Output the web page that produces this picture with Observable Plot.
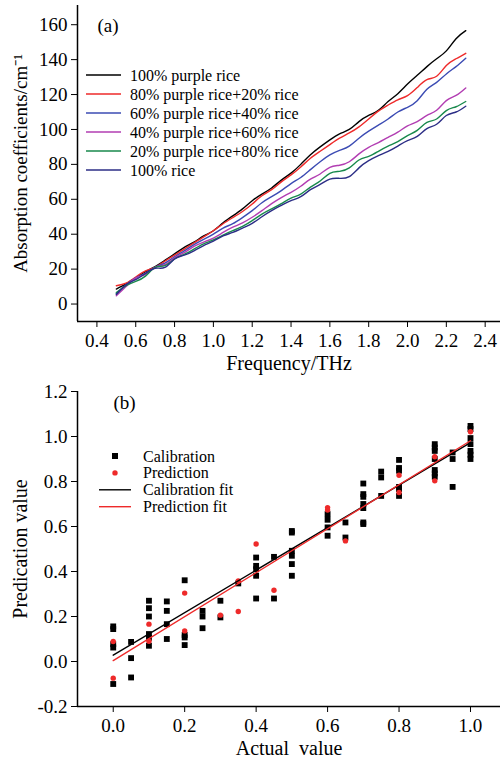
<!DOCTYPE html>
<html>
<head>
<meta charset="utf-8">
<script src="https://cdn.jsdelivr.net/npm/d3@7"></script>
<script src="https://cdn.jsdelivr.net/npm/@observablehq/plot@0.6"></script>
<style>
  body { margin: 0; background: #fff; }
  #wrap { position: relative; width: 500px; height: 760px; font-family: "Liberation Serif", "Times New Roman", serif; }
  .legend { position: absolute; left: 0; top: 0; pointer-events: none; }
</style>
</head>
<body>
<div id="wrap"></div>
<script>
// ---------- Panel (a) data ----------
const freq = [0.5,0.55,0.6,0.65,0.7,0.75,0.8,0.85,0.9,0.95,1.0,1.05,1.1,1.15,1.2,1.25,1.3,1.35,1.4,1.45,1.5,1.55,1.6,1.65,1.7,1.75,1.8,1.85,1.9,1.95,2.0,2.05,2.1,2.15,2.2,2.25,2.3];
const purple100 = [8.6,11.5,15,18.5,21.5,25,28.7,32.5,35.5,39,42,46.5,50.5,54.5,59.2,63,66.5,71,75,80,85.5,90,94,97.5,100,104.5,108,111,116,120.5,126,131,136,140.5,145,152,156.6];
const purple80 = [10.5,12,15.5,19,21,24.5,28,31.5,35,38.5,42,46,49.5,53,57.3,62,65.5,70,74,78.5,83.5,87.5,91.3,95,98,101.5,106,110.5,114,117,119.4,124,128.5,130.5,136.6,140.5,143.6];
const purple60 = [6,11,15,17.5,21,23.5,27,30.5,34,37,40,43.5,46,49.5,53.5,58,61.5,65,69,72.5,77,81.5,85.4,88,90.5,95,99,102.5,106,110,112.7,116.5,123,127,131.8,136,140.8];
const purple40 = [4.8,10,15,17,21,22.5,26.5,29.5,33,35.5,37.8,41,44,46.5,49.7,53.5,57.5,61,64,67.5,71.5,74.5,78.3,79.5,81.5,86,89.8,92.5,95.5,98.5,102,104.5,108,111,116.5,119.5,123.8];
const purple20 = [6.5,10.5,13,16,21,22,25.8,28.5,31.5,34.5,36.7,39.5,42,44.5,47.8,51.5,54.5,57.5,60.7,63,67,70.5,74.9,76,78,82.5,84.6,87.5,90.5,93,96.5,99.5,104,106,110.8,113,116];
const rice100 = [5.5,11,14,17.5,20.5,21,25.8,28,30.5,33.5,36,39,41,43.5,46.2,50,53.5,56.5,59.2,61.5,65.5,68.5,71.6,72,73,78,82.1,85,87.5,90.5,93.6,96,100.5,103,108,110,113.3];
const seriesNames = ["100% purple rice","80% purple rice+20% rice","60% purple rice+40% rice","40% purple rice+60% rice","20% purple rice+80% rice","100% rice"];
const seriesValues = [purple100, purple80, purple60, purple40, purple20, rice100];
const seriesColors = ["#000000","#ee2a2a","#3b4bb3","#b23db2","#18894c","#2c2e86"];
const xTicksA = [0.4,0.6,0.8,1.0,1.2,1.4,1.6,1.8,2.0,2.2,2.4];
const yTicksA = [0,20,40,60,80,100,120,140,160];

// ---------- Panel (b) data ----------
const calX = [0,0,0,0,0, 0.05,0.05,0.05, 0.1,0.1,0.1,0.1,0.1,0.1, 0.15,0.15,0.15,0.15, 0.2,0.2,0.2,0.2, 0.25,0.25,0.25, 0.3,0.3, 0.35, 0.4,0.4,0.4,0.4,0.4, 0.45,0.45, 0.5,0.5,0.5,0.5,0.5,0.5, 0.6,0.6,0.6,0.6, 0.65,0.65, 0.7,0.7,0.7,0.7,0.7,0.7,0.7, 0.75,0.75,0.75, 0.8,0.8,0.8,0.8,0.8,0.8, 0.9,0.9,0.9,0.9,0.9,0.9,0.9, 0.95,0.95,0.95, 1,1,1,1,1,1,1];
const calY = [0.156,0.144,0.077,0.062,-0.1, 0.087,0.015,-0.071, 0.27,0.237,0.2,0.122,0.105,0.07, 0.267,0.225,0.166,0.1, 0.361,0.118,0.107,0.073, 0.225,0.2,0.148, 0.27,0.196, 0.347, 0.462,0.425,0.41,0.381,0.28, 0.465,0.28, 0.58,0.573,0.492,0.47,0.433,0.381, 0.655,0.63,0.596,0.559, 0.618,0.551, 0.791,0.744,0.732,0.7,0.682,0.618,0.611, 0.844,0.818,0.736, 0.896,0.86,0.848,0.776,0.766,0.736, 0.966,0.951,0.936,0.9,0.851,0.836,0.821, 0.929,0.9,0.776, 1.047,1.033,0.993,0.966,0.936,0.919,0.9];
const predX = [0,0, 0.1,0.1, 0.2,0.2, 0.3, 0.35,0.35, 0.4, 0.45, 0.6,0.6, 0.65, 0.8,0.8, 0.9,0.9, 1];
const predY = [0.089,-0.074, 0.166,0.09, 0.304,0.136, 0.206, 0.358,0.222, 0.522, 0.317, 0.684,0.673, 0.536, 0.828,0.751, 0.91,0.803, 1.021];
const fitX = [0, 1];
const calFitY = [0.028, 0.973];
const predFitY = [0.004, 0.981];
const xTicksB = [0,0.2,0.4,0.6,0.8,1.0];
const yTicksB = [-0.2,0,0.2,0.4,0.6,0.8,1.0,1.2];

const FONT = "\"Liberation Serif\", \"Times New Roman\", serif";
const wrap = document.getElementById("wrap");

// ---------- Panel (a) ----------
const rowsA = seriesNames.flatMap((name, i) => freq.map((f, j) => ({f, v: seriesValues[i][j], name})));
const plotA = Plot.plot({
  width: 500, height: 380,
  marginLeft: 77, marginRight: 0, marginTop: 5, marginBottom: 59,
  style: {fontFamily: FONT, fontSize: "19px", background: "white", color: "black", overflow: "visible"},
  x: {domain: [0.3, 2.479]},
  y: {domain: [-10, 171]},
  color: {domain: seriesNames, range: seriesColors},
  marks: [
    Plot.line(rowsA, {x: "f", y: "v", z: "name", stroke: "name", curve: "natural", strokeWidth: 1.4}),
    Plot.ruleX([0.3], {strokeWidth: 1.5}),
    Plot.ruleY([-10], {strokeWidth: 1.5}),
    Plot.axisX({ticks: xTicksA, tickSize: 6, tickPadding: 6, tickFormat: d => d.toFixed(1), fontSize: 19, label: null}),
    Plot.axisY({ticks: yTicksA, tickSize: 6, tickPadding: 4, tickFormat: d => String(d), fontSize: 19, label: null}),
    Plot.text(["Frequency/THz"], {text: d => d, frameAnchor: "bottom", dy: 42, fontSize: 20, lineAnchor: "middle", textAnchor: "middle"}),
    Plot.text(["Absorption coefficients/cm\u207B\u00B9"], {text: d => d, frameAnchor: "left", dx: -57, rotate: -90, fontSize: 19, lineAnchor: "middle", textAnchor: "middle"}),
    Plot.text(["(a)"], {text: d => d, frameAnchor: "top-left", dx: 20, dy: 20, fontSize: 19, textAnchor: "start", lineAnchor: "middle"})
  ]
});
wrap.appendChild(plotA);

// ---------- Panel (b) ----------
const calRows = calX.map((x, i) => ({x, y: calY[i]}));
const predRows = predX.map((x, i) => ({x, y: predY[i]}));
const calFit = fitX.map((x, i) => ({x, y: calFitY[i]}));
const predFit = fitX.map((x, i) => ({x, y: predFitY[i]}));
const plotB = Plot.plot({
  width: 500, height: 380,
  marginLeft: 77, marginRight: 0, marginTop: 11, marginBottom: 54,
  style: {fontFamily: FONT, fontSize: "19px", background: "white", color: "black", overflow: "visible"},
  x: {domain: [-0.1, 1.084]},
  y: {domain: [-0.2, 1.2]},
  marks: [
    Plot.dot(calRows, {x: "x", y: "y", symbol: "square", r: 3.3, fill: "black", stroke: "none"}),
    Plot.dot(predRows, {x: "x", y: "y", symbol: "circle", r: 2.7, fill: "#ee2a2a", stroke: "none"}),
    Plot.line(calFit, {x: "x", y: "y", stroke: "black", strokeWidth: 1.4}),
    Plot.line(predFit, {x: "x", y: "y", stroke: "#ee2a2a", strokeWidth: 1.4}),
    Plot.ruleX([-0.1], {strokeWidth: 1.5}),
    Plot.ruleY([-0.2], {strokeWidth: 1.5}),
    Plot.axisX({ticks: xTicksB, tickSize: 6, tickPadding: 6, tickFormat: d => d.toFixed(1), fontSize: 19, label: null}),
    Plot.axisY({ticks: yTicksB, tickSize: 6, tickPadding: 4, tickFormat: d => d.toFixed(1), fontSize: 19, label: null}),
    Plot.text(["Actual  value"], {text: d => d, frameAnchor: "bottom", dy: 42, fontSize: 20, lineAnchor: "middle", textAnchor: "middle"}),
    Plot.text(["Predication value"], {text: d => d, frameAnchor: "left", dx: -57, rotate: -90, fontSize: 20, lineAnchor: "middle", textAnchor: "middle"}),
    Plot.text(["(b)"], {text: d => d, frameAnchor: "top-left", dx: 36, dy: 11, fontSize: 19, textAnchor: "start", lineAnchor: "middle"})
  ]
});
wrap.appendChild(plotB);

// ---------- Legends (SVG overlay) ----------
const NS = "http://www.w3.org/2000/svg";
const leg = document.createElementNS(NS, "svg");
leg.setAttribute("class", "legend");
leg.setAttribute("width", 500);
leg.setAttribute("height", 760);
leg.style.fontFamily = FONT;
function el(tag, attrs, txt) {
  const e = document.createElementNS(NS, tag);
  for (const k in attrs) e.setAttribute(k, attrs[k]);
  if (txt != null) e.textContent = txt;
  leg.appendChild(e);
  return e;
}
seriesNames.forEach((name, i) => {
  const y = 75 + i * 19;
  el("line", {x1: 86, x2: 121, y1: y, y2: y, stroke: seriesColors[i], "stroke-width": 1.4});
  el("text", {x: 130, y: y, "dominant-baseline": "central", "font-size": 16}, name);
});
const legB = [
  {label: "Calibration", kind: "square", color: "black"},
  {label: "Prediction", kind: "circle", color: "#ee2a2a"},
  {label: "Calibration fit", kind: "line", color: "black"},
  {label: "Prediction fit", kind: "line", color: "#ee2a2a"}
];
legB.forEach((d, i) => {
  const y = 456 + i * 16.9;
  if (d.kind === "square") el("rect", {x: 112, y: y - 3, width: 6, height: 6, fill: d.color});
  else if (d.kind === "circle") el("circle", {cx: 115, cy: y, r: 2.7, fill: d.color});
  else el("line", {x1: 99, x2: 131, y1: y, y2: y, stroke: d.color, "stroke-width": 1.4});
  el("text", {x: 143, y: y, "dominant-baseline": "central", "font-size": 16}, d.label);
});
wrap.appendChild(leg);
</script>
</body>
</html>
